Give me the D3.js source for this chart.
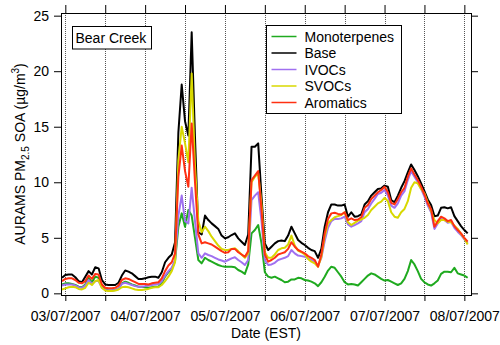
<!DOCTYPE html>
<meta charset="utf-8">
<style>
body { margin: 0; background: #fff; }
text { font-family: "Liberation Sans", Arial, sans-serif; fill: #000; }
.grid line { stroke: #555; stroke-width: 1; stroke-dasharray: 1,1; }
.series { fill: none; stroke-width: 2; stroke-linejoin: round; }
</style>
<body>
<svg width="500" height="345"></svg>
<script src="https://d3js.org/d3.v7.min.js"></script>
<script>

// hourly values, first point 02/07/2007 23:00 EST
var firstHour = new Date(2007, 6, 2, 23);

var seriesNames = ["Monoterpenes", "Base", "IVOCs", "SVOCs", "Aromatics"];
var seriesColors = ["#1faa1f", "#000000", "#a070f0", "#d8d800", "#ff3012"];

var monoterpenes = [0.8, 0.9, 0.9, 0.85, 0.75, 0.6, 0.55, 0.8, 1.4, 1.0, 1.5,
  1.4, 0.6, 0.35, 0.25, 0.25, 0.3, 0.45, 0.9, 1.05, 0.95,
  0.8, 0.7, 0.6, 0.6, 0.55, 0.5, 0.55, 0.6, 0.6, 0.9,
  1.5, 1.9, 2.2, 2.9, 6.0, 7.2, 6.0, 7.5, 7.0, 5.0,
  3.0, 2.7, 3.2, 3.0, 2.85, 2.7, 2.55, 2.45, 2.4, 2.4,
  2.4, 2.35, 2.1, 1.95, 1.75, 2.6, 5.4, 5.7, 6.15, 4.5,
  1.9, 1.5, 1.4, 1.5, 1.35, 1.2, 1.0, 1.05, 1.25, 1.25,
  1.4, 1.35, 1.2, 1.15, 1.05, 0.9, 0.65, 1.0, 1.5, 2.05,
  2.4, 2.3, 1.9, 1.5, 1.0, 0.8, 0.85, 0.8, 0.7, 1.0,
  1.3, 1.6, 1.8, 1.7, 1.5, 1.3, 1.15, 1.2, 1.05, 0.9,
  0.75, 0.9, 1.3, 2.0, 3.0, 2.6, 2.0, 1.3, 1.0, 0.8,
  0.7, 0.9, 1.15, 1.75, 1.95, 1.95, 1.9, 2.3, 1.8, 1.7,
  1.6, 1.4];

var base = [1.4, 1.65, 1.7, 1.7, 1.45, 1.1, 1.0, 1.5, 2.0, 1.7, 2.35,
  2.25, 1.2, 0.8, 0.75, 0.75, 0.75, 0.95, 1.6, 2.05, 1.95,
  1.8, 1.55, 1.3, 1.3, 1.35, 1.45, 1.5, 1.5, 1.4, 1.9,
  2.8, 3.2, 3.5, 4.6, 14.5, 18.8, 15.5, 14.2, 23.5, 14.0,
  5.5, 5.3, 7.0, 6.6, 6.3, 6.05, 5.8, 5.2, 4.95, 5.05,
  5.25, 5.4, 4.95, 4.65, 4.35, 5.3, 13.2, 13.2, 13.5, 8.7,
  4.5, 3.9, 4.2, 4.5, 4.7, 4.75, 4.7, 5.2, 6.0, 5.4,
  4.8, 4.55, 4.35, 4.1, 3.9, 3.8, 3.2, 4.0, 6.0, 7.3,
  8.0, 8.0, 7.9, 7.9, 8.0, 6.9, 7.3, 6.9, 6.95, 7.1,
  8.0, 8.3, 8.8, 9.1, 9.4, 9.45, 9.7, 9.6, 8.4, 8.2,
  8.8, 9.5, 10.1, 10.9, 11.6, 11.1, 10.55, 9.9, 9.2, 8.45,
  7.95, 6.95, 7.0, 7.7, 7.75, 7.65, 7.75, 6.95, 6.5, 6.05,
  5.7, 5.4];

var ivocs = [0.7, 0.8, 0.8, 0.8, 0.7, 0.55, 0.5, 0.7, 1.2, 0.85, 1.1,
  1.1, 0.5, 0.3, 0.25, 0.25, 0.3, 0.45, 0.85, 0.95, 0.85,
  0.75, 0.65, 0.6, 0.6, 0.65, 0.7, 0.75, 0.8, 0.85, 1.1,
  1.6, 2.0, 2.3, 3.0, 7.0, 8.8, 6.5, 6.3, 9.5, 6.5,
  3.6, 3.2, 3.6, 3.45, 3.35, 3.2, 3.05, 2.95, 2.85, 3.0,
  3.15, 3.25, 3.0, 2.8, 2.55, 3.0, 8.4, 8.8, 9.1, 6.5,
  3.0, 2.55, 2.6, 2.75, 3.0, 3.1, 3.2, 3.35, 3.9, 3.6,
  3.4, 3.35, 3.3, 3.15, 3.0, 2.85, 2.5, 3.2, 4.7, 5.9,
  6.5, 6.7, 6.7, 6.75, 6.9, 6.2, 6.0, 6.15, 6.3, 6.5,
  7.3, 7.6, 8.1, 8.5, 8.95, 9.05, 9.3, 8.8, 7.9, 7.7,
  8.1, 8.8, 9.2, 10.2, 11.0, 10.5, 10.0, 9.4, 8.7, 7.9,
  7.3, 5.8, 6.3, 6.7, 6.6, 6.35, 6.45, 5.9, 5.55, 5.25,
  4.85, 4.5];

var svocs = [0.35, 0.45, 0.55, 0.6, 0.55, 0.4, 0.35, 0.5, 0.95, 0.75, 1.1,
  1.2, 0.5, 0.25, 0.2, 0.2, 0.25, 0.35, 0.55, 0.6, 0.55,
  0.45, 0.35, 0.3, 0.3, 0.35, 0.4, 0.5, 0.55, 0.55, 0.75,
  1.1, 1.5, 2.0, 2.8, 12.0, 15.0, 13.5, 11.8, 19.8, 11.5,
  6.5, 5.5, 6.0, 5.6, 5.1, 4.7, 4.3, 4.0, 3.9, 3.9,
  4.0, 4.05, 3.8, 3.5, 3.2, 3.6, 10.0, 10.5, 10.8, 8.0,
  3.7, 3.2, 3.2, 3.5, 3.9, 4.05, 4.1, 4.4, 5.2, 4.3,
  3.85, 3.7, 3.5, 3.1, 2.85, 2.7, 2.4, 3.3, 5.1, 6.3,
  6.6, 6.85, 6.95, 7.05, 7.3, 6.4, 6.15, 6.35, 6.55, 6.65,
  6.8, 7.05, 7.5, 7.8, 8.1, 8.25, 8.6, 8.3, 7.3, 6.9,
  6.8, 7.3, 7.6, 8.3, 9.5, 10.0, 9.9, 9.4, 9.0, 8.2,
  7.4, 6.6, 6.3, 6.6, 6.6, 6.45, 6.4, 6.1, 5.8, 5.35,
  4.95, 4.4];

var aromatics = [1.1, 1.3, 1.35, 1.35, 1.2, 0.95, 0.9, 1.1, 1.6, 1.3, 1.75,
  1.7, 0.8, 0.5, 0.45, 0.45, 0.5, 0.7, 1.2, 1.35, 1.3,
  1.15, 1.0, 0.85, 0.85, 0.85, 0.8, 0.9, 0.95, 1.0, 1.35,
  2.0, 2.5, 2.8, 3.6, 10.5, 13.3, 11.0, 9.6, 15.3, 10.0,
  5.3, 4.5, 4.6, 4.5, 4.4, 4.2, 4.0, 3.8, 3.65, 3.7,
  4.0, 4.0, 3.7, 3.5, 3.3, 3.8, 10.2, 10.6, 11.0, 7.5,
  3.5, 2.85, 3.0, 3.2, 3.5, 3.6, 3.7, 4.0, 4.6, 4.2,
  3.9, 3.75, 3.6, 3.35, 3.2, 3.0, 2.4, 3.5, 5.4, 6.7,
  7.2, 7.25, 7.15, 7.1, 7.3, 6.6, 6.75, 6.6, 6.65, 6.85,
  7.7, 7.95, 8.5, 8.8, 9.1, 9.3, 9.6, 9.1, 8.15, 8.0,
  8.5, 9.1, 9.5, 10.5, 11.25, 10.7, 10.2, 9.6, 8.9, 8.1,
  7.6, 6.0, 6.5, 6.9, 6.75, 6.5, 6.6, 6.05, 5.7, 5.4,
  5.0, 4.65];

var yTicks = [0, 5, 10, 15, 20, 25];

var allSeries = [monoterpenes, base, ivocs, svocs, aromatics];

var svg = d3.select("svg"),
    margin = {top: 13, right: 29, bottom: 50, left: 61},
    width = +svg.attr("width") - margin.left - margin.right,
    height = +svg.attr("height") - margin.top - margin.bottom,
    g = svg.append("g").attr("transform", "translate(" + margin.left + "," + margin.top + ")");

function hourDate(i) {
  return new Date(firstHour.getTime() + i * 3600 * 1000);
}

var x = d3.scaleTime()
    .domain([new Date(2007, 6, 2, 22, 42), new Date(2007, 6, 8, 2, 0)])
    .range([0, width]);

var y = d3.scaleLinear()
    .domain([-0.15, 25.24])
    .range([height, 0]);

var halfDays = d3.timeHour.every(12).range(new Date(2007, 6, 3), new Date(2007, 6, 8, 1));
var days = d3.timeDay.range(new Date(2007, 6, 3), new Date(2007, 6, 8, 1));

// dotted verticals every 12 h
g.append("g")
    .attr("class", "grid")
  .selectAll("line")
  .data(halfDays)
  .enter().append("line")
    .attr("x1", function(d) { return Math.round(x(d)) + 0.5; })
    .attr("x2", function(d) { return Math.round(x(d)) + 0.5; })
    .attr("y1", 0)
    .attr("y2", height);

var line = d3.line()
    .x(function(d, i) { return x(hourDate(i)); })
    .y(function(d) { return y(d); });

g.selectAll(".series")
  .data(allSeries)
  .enter().append("path")
    .attr("class", "series")
    .attr("stroke", function(d, i) { return seriesColors[i]; })
    .attr("d", line);

// axes, ticks pointing out on all four sides
var xBottom = g.append("g")
    .attr("transform", "translate(0," + height + ")")
    .call(d3.axisBottom(x)
      .tickValues(halfDays)
      .tickSizeInner(6)
      .tickSizeOuter(0)
      .tickPadding(10)
      .tickFormat(function(d) { return d.getHours() === 0 ? d3.timeFormat("%d/%m/%Y")(d) : ""; }));

var xTop = g.append("g")
    .call(d3.axisTop(x)
      .tickValues(halfDays)
      .tickSizeInner(8)
      .tickSizeOuter(0)
      .tickFormat(""));

var yLeft = g.append("g")
    .call(d3.axisLeft(y)
      .tickValues(yTicks)
      .tickSizeInner(7)
      .tickSizeOuter(0)
      .tickPadding(5));

var yRight = g.append("g")
    .attr("transform", "translate(" + width + ",0)")
    .call(d3.axisRight(y)
      .tickValues(yTicks)
      .tickSizeInner(7)
      .tickSizeOuter(0)
      .tickFormat(""));

[xBottom, xTop, yLeft, yRight].forEach(function(a) {
  a.selectAll("path").remove();
  a.selectAll("line").attr("stroke", "#000");
  a.selectAll("text")
    .style("font-size", "14px")
    .style("font-family", "Liberation Sans, Arial, sans-serif")
    .attr("fill", "#000");
});

g.append("rect")
    .attr("x", 0)
    .attr("y", 0)
    .attr("width", width)
    .attr("height", height)
    .attr("fill", "none")
    .attr("stroke", "#000")
    .attr("stroke-width", 1)
    .attr("shape-rendering", "crispEdges");

// axis titles
svg.append("text")
    .attr("x", margin.left + width / 2)
    .attr("y", 338)
    .attr("text-anchor", "middle")
    .style("font-size", "14px")
    .text("Date (EST)");

var yTitle = svg.append("text")
    .attr("transform", "translate(25," + (margin.top + height / 2) + ") rotate(-90)")
    .attr("text-anchor", "middle")
    .style("font-size", "14px");
yTitle.append("tspan").text("AURAMS PM");
yTitle.append("tspan").attr("dy", 4).style("font-size", "10px").text("2.5");
yTitle.append("tspan").attr("dy", -4).text(" SOA (\u00b5g/m");
yTitle.append("tspan").attr("dy", -6).style("font-size", "10px").text("3");
yTitle.append("tspan").attr("dy", 6).text(")");

// site label
svg.append("rect")
    .attr("x", 72.5)
    .attr("y", 26.5)
    .attr("width", 79)
    .attr("height", 22.5)
    .attr("fill", "#fff")
    .attr("stroke", "#000")
    .attr("stroke-width", 1);

svg.append("text")
    .attr("x", 75.5)
    .attr("y", 43)
    .style("font-size", "14px")
    .text("Bear Creek");

// legend
var legend = svg.append("g").attr("transform", "translate(266.5,25.5)");

legend.append("rect")
    .attr("width", 135)
    .attr("height", 88)
    .attr("fill", "#fff")
    .attr("stroke", "#000")
    .attr("stroke-width", 1);

var item = legend.selectAll(".item")
    .data(seriesNames)
  .enter().append("g")
    .attr("class", "item")
    .attr("transform", function(d, i) { return "translate(0," + (11 + i * 16.5) + ")"; });

item.append("line")
    .attr("x1", 5)
    .attr("x2", 30)
    .attr("stroke", function(d, i) { return seriesColors[i]; })
    .attr("stroke-width", 1.5);

item.append("text")
    .attr("x", 38)
    .attr("y", 5)
    .style("font-size", "14px")
    .text(function(d) { return d; });

</script>
</body>
